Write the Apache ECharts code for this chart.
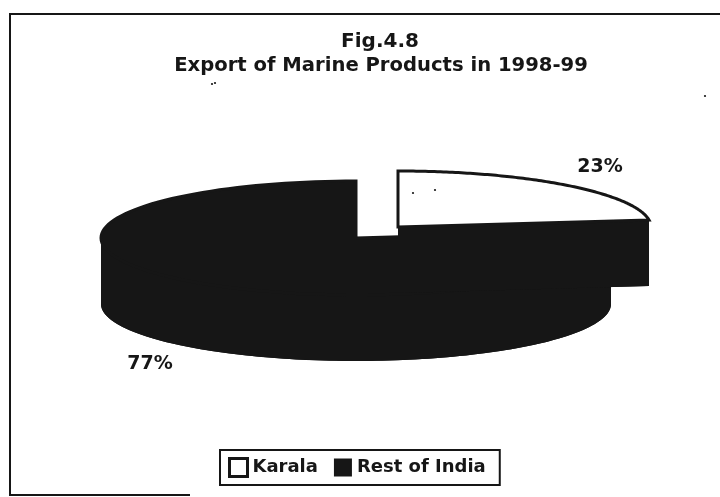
<!DOCTYPE html>
<html>
<head>
<meta charset="utf-8">
<style>
  html, body { margin: 0; padding: 0; background: #fff; }
  #chart { width: 720px; height: 497px; filter: blur(0.4px); }
</style>
<script src="https://cdn.jsdelivr.net/npm/echarts@6/dist/echarts.min.js"></script>
</head>
<body>
<div id="chart"></div>
<script>
const categories = ['Karala', 'Rest of India']
const shares = [23, 77]
const titleLines = ['Fig.4.8', 'Export of Marine Products in 1998-99']

const INK = '#161616'
const FONT = '"DejaVu Sans", sans-serif'
const total = shares[0] + shares[1]
const DEPTH = 66

// angle is clockwise from 12 o'clock, flattened to an ellipse
function rim(c, rad, depth) {
  return [c.x + c.rx * Math.sin(rad), c.y - c.ry * Math.cos(rad) + (depth || 0)]
}

function arcPoints(c, from, to, depth) {
  const pts = []
  const n = 120
  for (let i = 0; i <= n; i++) {
    pts.push(rim(c, from + (to - from) * i / n, depth))
  }
  return pts
}

function poly(points, style) {
  return { type: 'polygon', shape: { points }, style }
}

// exploded slice: sides first, then the top face
function sliceRender(c, startShare, labelPos, faceColor) {
  return function (params, api) {
    const value = api.value(0)
    const from = startShare / total * Math.PI * 2
    const to = from + value / total * Math.PI * 2
    const topArc = arcPoints(c, from, to, 0)
    const lowArc = arcPoints(c, from, to, DEPTH)
    const apex = [c.x, c.y]
    const apexLow = [c.x, c.y + DEPTH]
    const side = { fill: INK }
    const children = [
      poly([apexLow].concat(lowArc), side),
      poly([apex, topArc[0], lowArc[0], apexLow], side),
      poly([apex, topArc[topArc.length - 1], lowArc[lowArc.length - 1], apexLow], side)
    ]
    // outer wall only shows on the front half of the ellipse
    const wallFrom = Math.max(from, Math.PI / 2)
    const wallTo = Math.min(to, Math.PI * 1.5)
    if (wallTo > wallFrom) {
      const wallTop = arcPoints(c, wallFrom, wallTo, 0)
      const wallLow = arcPoints(c, wallFrom, wallTo, DEPTH)
      children.push(poly(wallTop.concat(wallLow.reverse()), side))
    }
    children.push(
      poly([apex].concat(topArc), { fill: faceColor, stroke: INK, lineWidth: 3, lineJoin: 'miter' }),
      {
        type: 'text',
        x: labelPos[0],
        y: labelPos[1],
        style: {
          text: value + '%',
          fill: INK,
          font: 'bold 19px ' + FONT,
          textAlign: 'center',
          textVerticalAlign: 'middle'
        }
      }
    )
    return { type: 'group', children }
  }
}

const specks = [[413, 193], [435, 190], [705, 96], [212, 84], [215, 83]]

const chart = echarts.init(document.getElementById('chart'))
chart.setOption({
  animation: false,
  backgroundColor: '#fff',
  title: [
    {
      text: titleLines[0],
      left: 375, top: 27, textAlign: 'center',
      textStyle: { color: INK, fontFamily: FONT, fontWeight: 'bold', fontSize: 20 }
    },
    {
      text: titleLines[1],
      left: 376, top: 51, textAlign: 'center',
      textStyle: { color: INK, fontFamily: FONT, fontWeight: 'bold', fontSize: 19.6 }
    }
  ],
  legend: {
    left: 220,
    top: 450,
    padding: [7, 14, 7, 8],
    orient: 'horizontal',
    itemGap: 16,
    itemWidth: 18,
    itemHeight: 18,
    selectedMode: false,
    borderColor: INK,
    borderWidth: 2,
    textStyle: { color: INK, fontFamily: FONT, fontWeight: 'bold', fontSize: 18 },
    data: [
      { name: categories[0], icon: 'rect', itemStyle: { color: '#fff', borderColor: INK, borderWidth: 3 } },
      { name: categories[1], icon: 'rect', itemStyle: { color: INK } }
    ]
  },
  series: [
    {
      type: 'custom',
      name: categories[1],
      coordinateSystem: 'none',
      z: 2,
      silent: true,
      itemStyle: { color: INK },
      renderItem: sliceRender({ x: 356, y: 238, rx: 255, ry: 57 }, shares[0], [150, 364], INK),
      data: [[shares[1]]]
    },
    {
      type: 'custom',
      name: categories[0],
      coordinateSystem: 'none',
      z: 3,
      silent: true,
      itemStyle: { color: '#fff', borderColor: INK, borderWidth: 3 },
      renderItem: sliceRender({ x: 398, y: 227, rx: 253, ry: 56 }, 0, [600, 167], '#fff'),
      data: [[shares[0]]]
    }
  ],
  graphic: [
    { type: 'polyline', z: 10, shape: { points: [[720, 14], [10, 14], [10, 495], [190, 495]] }, style: { stroke: INK, lineWidth: 2, fill: null } }
  ].concat(specks.map(p => ({
    type: 'circle', z: 10, shape: { cx: p[0], cy: p[1], r: 1.1 }, style: { fill: INK }
  })))
})
</script>
</body>
</html>
